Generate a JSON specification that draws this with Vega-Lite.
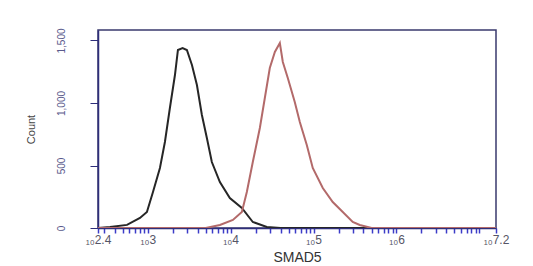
{
  "$schema": "https://vega.github.io/schema/vega-lite/v6.json",
  "width": 398,
  "height": 198,
  "autosize": "none",
  "padding": {"left": 98, "top": 30, "right": 37, "bottom": 38},
  "background": "white",
  "config": {
    "font": "Liberation Sans",
    "view": {"stroke": "#3a3a6e", "strokeWidth": 1.5}
  },
  "data": {
    "values": [
      {"series": "control", "log_intensity": 2.4, "count": 0},
      {"series": "control", "log_intensity": 2.545, "count": 8},
      {"series": "control", "log_intensity": 2.75, "count": 25},
      {"series": "control", "log_intensity": 2.906, "count": 80},
      {"series": "control", "log_intensity": 2.99, "count": 128},
      {"series": "control", "log_intensity": 3.063, "count": 288},
      {"series": "control", "log_intensity": 3.147, "count": 480},
      {"series": "control", "log_intensity": 3.207, "count": 688},
      {"series": "control", "log_intensity": 3.267, "count": 960},
      {"series": "control", "log_intensity": 3.328, "count": 1224},
      {"series": "control", "log_intensity": 3.364, "count": 1424},
      {"series": "control", "log_intensity": 3.42, "count": 1440},
      {"series": "control", "log_intensity": 3.472, "count": 1424},
      {"series": "control", "log_intensity": 3.533, "count": 1304},
      {"series": "control", "log_intensity": 3.593, "count": 1144},
      {"series": "control", "log_intensity": 3.653, "count": 904},
      {"series": "control", "log_intensity": 3.713, "count": 720},
      {"series": "control", "log_intensity": 3.773, "count": 528},
      {"series": "control", "log_intensity": 3.87, "count": 368},
      {"series": "control", "log_intensity": 3.99, "count": 240},
      {"series": "control", "log_intensity": 4.135, "count": 160},
      {"series": "control", "log_intensity": 4.267, "count": 48},
      {"series": "control", "log_intensity": 4.436, "count": 8},
      {"series": "control", "log_intensity": 4.6, "count": 0},
      {"series": "control", "log_intensity": 7.2, "count": 0},
      {"series": "SMAD5", "log_intensity": 2.4, "count": 0},
      {"series": "SMAD5", "log_intensity": 3.7, "count": 0},
      {"series": "SMAD5", "log_intensity": 3.87, "count": 24},
      {"series": "SMAD5", "log_intensity": 4.027, "count": 64},
      {"series": "SMAD5", "log_intensity": 4.135, "count": 128},
      {"series": "SMAD5", "log_intensity": 4.195, "count": 288},
      {"series": "SMAD5", "log_intensity": 4.267, "count": 528},
      {"series": "SMAD5", "log_intensity": 4.352, "count": 800},
      {"series": "SMAD5", "log_intensity": 4.412, "count": 1040},
      {"series": "SMAD5", "log_intensity": 4.472, "count": 1280},
      {"series": "SMAD5", "log_intensity": 4.533, "count": 1408},
      {"series": "SMAD5", "log_intensity": 4.593, "count": 1480},
      {"series": "SMAD5", "log_intensity": 4.629, "count": 1328},
      {"series": "SMAD5", "log_intensity": 4.689, "count": 1200},
      {"series": "SMAD5", "log_intensity": 4.773, "count": 1008},
      {"series": "SMAD5", "log_intensity": 4.834, "count": 848},
      {"series": "SMAD5", "log_intensity": 4.918, "count": 664},
      {"series": "SMAD5", "log_intensity": 4.99, "count": 480},
      {"series": "SMAD5", "log_intensity": 5.111, "count": 320},
      {"series": "SMAD5", "log_intensity": 5.231, "count": 208},
      {"series": "SMAD5", "log_intensity": 5.352, "count": 128},
      {"series": "SMAD5", "log_intensity": 5.472, "count": 48},
      {"series": "SMAD5", "log_intensity": 5.557, "count": 24},
      {"series": "SMAD5", "log_intensity": 5.7, "count": 0},
      {"series": "SMAD5", "log_intensity": 7.2, "count": 0}
    ]
  },
  "mark": {"type": "line", "strokeWidth": 2, "interpolate": "linear", "clip": true},
  "encoding": {
    "x": {
      "field": "log_intensity",
      "type": "quantitative",
      "scale": {"domain": [2.4, 7.2], "nice": false, "zero": false},
      "axis": {
        "title": "SMAD5",
        "titleFontSize": 14,
        "titleFontWeight": "normal",
        "titleColor": "#333333",
        "titlePadding": 5,
        "grid": false,
        "domainColor": "#2e2e7a",
        "domainWidth": 1.5,
        "tickColor": "#3c3cc8",
        "tickWidth": 1.5,
        "tickSize": 5,
        "labelPadding": 1,
        "labelFontSize": 12,
        "labelColor": "#555566",
        "labelOverlap": false,
        "labelBound": false,
        "labelFlush": false,
        "values": [2.4, 2.477, 2.602, 2.699, 2.778, 2.845, 2.903, 2.954,
                   3, 3.301, 3.477, 3.602, 3.699, 3.778, 3.845, 3.903, 3.954,
                   4, 4.301, 4.477, 4.602, 4.699, 4.778, 4.845, 4.903, 4.954,
                   5, 5.301, 5.477, 5.602, 5.699, 5.778, 5.845, 5.903, 5.954,
                   6, 6.301, 6.477, 6.602, 6.699, 6.778, 6.845, 6.903, 6.954,
                   7, 7.2],
        "labelExpr": "datum.value == 2.4 ? '₁₀2.4' : datum.value == 3 ? '₁₀3' : datum.value == 4 ? '₁₀4' : datum.value == 5 ? '₁₀5' : datum.value == 6 ? '₁₀6' : datum.value == 7.2 ? '₁₀7.2' : ''"
      }
    },
    "y": {
      "field": "count",
      "type": "quantitative",
      "scale": {"domain": [0, 1584], "nice": false},
      "axis": {
        "title": "Count",
        "titleFontSize": 11,
        "titleFontWeight": "normal",
        "titleColor": "#444444",
        "titlePadding": 20,
        "grid": false,
        "values": [0, 500, 1000, 1500],
        "format": ",d",
        "labelAngle": -90,
        "labelFontSize": 10,
        "labelColor": "#5a5a8c",
        "labelPadding": 24,
        "tickSize": 8,
        "tickColor": "#2e2e7a",
        "domainColor": "#2e2e7a",
        "domainWidth": 1.5
      }
    },
    "color": {
      "field": "series",
      "type": "nominal",
      "scale": {"domain": ["control", "SMAD5"], "range": ["#262626", "#b36a6a"]},
      "legend": null
    },
    "order": {"field": "log_intensity", "type": "quantitative"}
  }
}
